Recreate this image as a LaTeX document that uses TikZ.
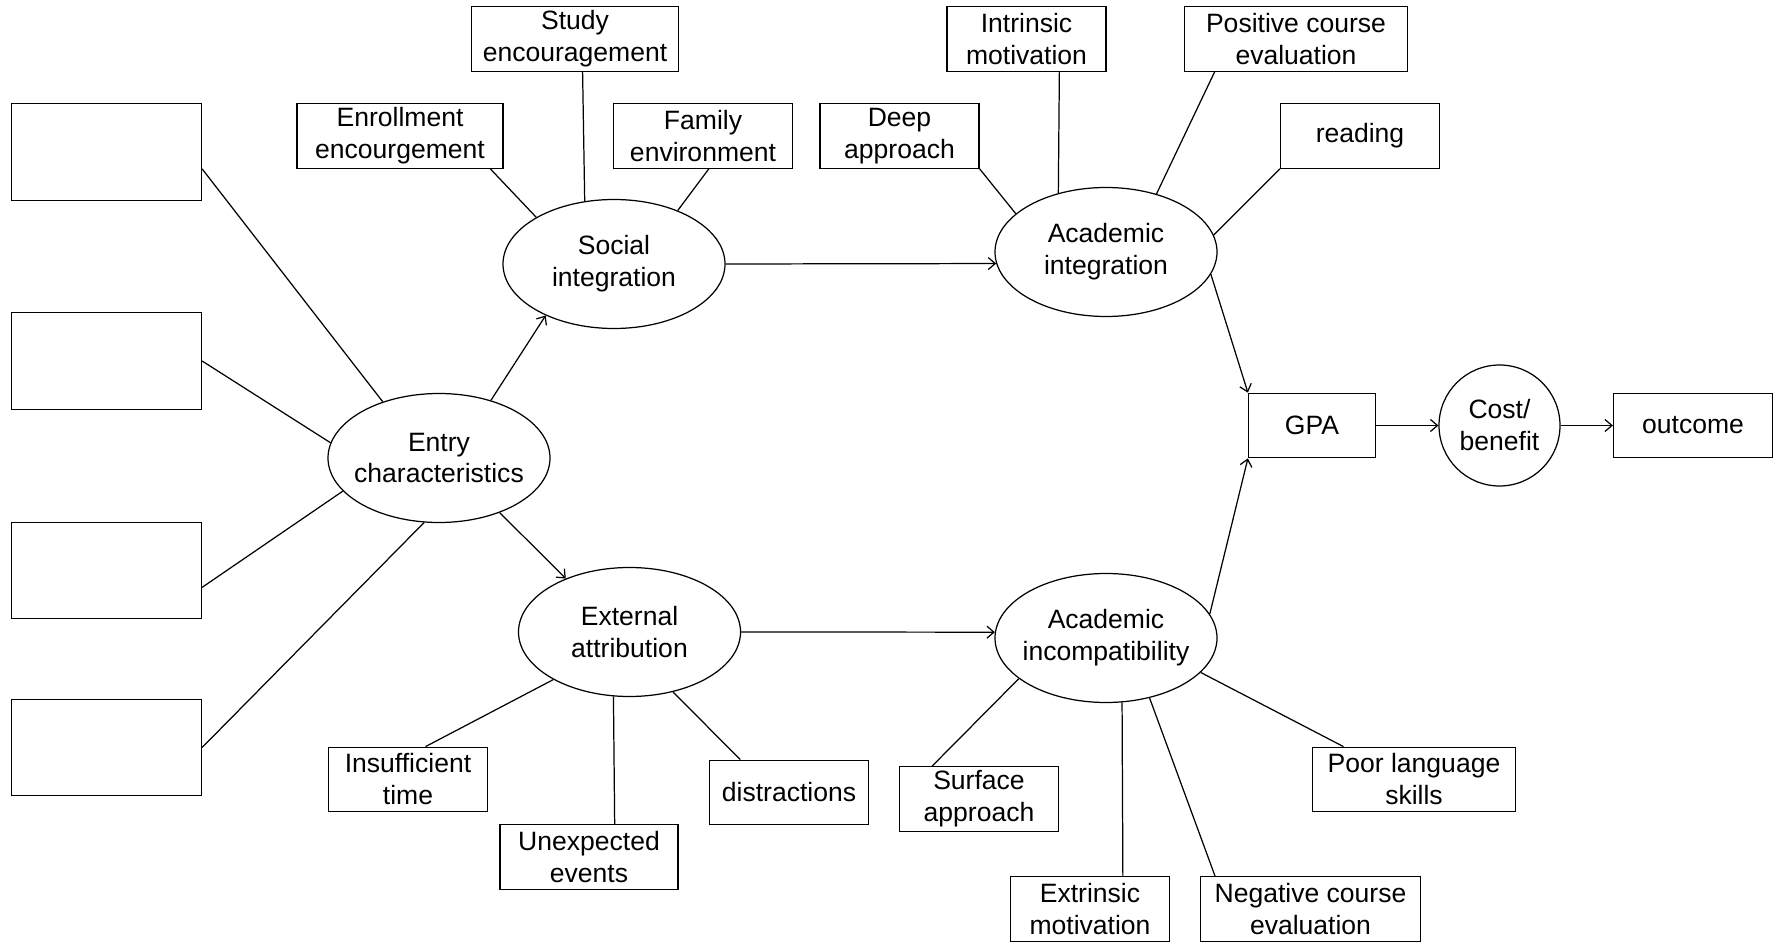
\documentclass[tikz,border=0pt]{standalone}
\usepackage{fontspec}
\setmainfont{Liberation Sans}
\usepackage{tikz}
\usetikzlibrary{shapes.geometric, arrows.meta, positioning}

\begin{document}
\begin{tikzpicture}[>={Straight Barb[length=1.4mm,width=2.4mm]}, on grid, line width=0.7pt,
    font=\fontsize{15.1}{18.2}\selectfont,
    construct/.style={draw, ellipse, minimum width=4.44cm, minimum height=2.58cm, inner xsep=-0.3cm, inner ysep=0pt, align=center},
    mediator/.style={draw, circle, minimum size=2.42cm, inner sep=0pt, align=center},
    indicator/.style={draw, rectangle, minimum width=3.18cm, minimum height=1.29cm, inner sep=0pt, align=center},
    blank/.style={draw, rectangle, minimum width=3.8cm, minimum height=1.93cm}]

\useasboundingbox (0,0) rectangle (35.56,-18.86);

\node[construct] (entry) at (8.78,-9.16) {Entry\\characteristics};
\node[construct, above right=3.88cm and 3.5cm of entry] (social) {Social\\integration};
\node[construct, below right=3.48cm and 3.81cm of entry] (external) {External\\attribution};
\node[construct, right=9.84cm of social, yshift=0.24cm] (acadint) {Academic\\integration};
\node[construct, right=9.53cm of external, yshift=-0.12cm] (acadinc) {Academic\\incompatibility};
\node[indicator, minimum width=2.54cm, below right=3.47cm and 4.12cm of acadint] (gpa) {GPA};
\node[mediator, right=3.75cm of gpa] (cost) {Cost/\\benefit};
\node[indicator, right=3.87cm of cost] (outcome) {outcome};

\node[blank, above left=6.12cm and 6.65cm of entry] (b1) {};
\node[blank, below=4.18cm of b1] (b2) {};
\node[blank, below=4.19cm of b2] (b3) {};
\node[blank, below=3.54cm of b3] (b4) {};

\node[indicator, minimum width=4.12cm, above left=2.56cm and 4.28cm of social] (enroll) {Enrollment\\encourgement};
\node[indicator, minimum width=4.13cm, above left=4.50cm and 0.78cm of social] (study) {Study\\encouragement};
\node[indicator, minimum width=3.57cm, above right=2.56cm and 1.78cm of social] (family) {Family\\environment};
\node[indicator, above left=2.32cm and 4.13cm of acadint] (deep) {Deep\\approach};
\node[indicator, above left=4.26cm and 1.59cm of acadint] (intrinsic) {Intrinsic\\motivation};
\node[indicator, minimum width=4.46cm, above right=4.26cm and 3.80cm of acadint] (positive) {Positive course\\evaluation};
\node[indicator, above right=2.32cm and 5.08cm of acadint] (reading) {reading};
\node[indicator, below left=2.95cm and 4.43cm of external] (insufficient) {Insufficient\\time};
\node[indicator, minimum width=3.56cm, below left=4.50cm and 0.81cm of external] (unexpected) {Unexpected\\events};
\node[indicator, below right=3.21cm and 3.19cm of external] (distractions) {distractions};
\node[indicator, below left=3.22cm and 2.54cm of acadinc] (surface) {Surface\\approach};
\node[indicator, below left=5.42cm and 0.32cm of acadinc] (extrinsic) {Extrinsic\\motivation};
\node[indicator, minimum width=4.39cm, below right=5.42cm and 4.09cm of acadinc] (negative) {Negative course\\evaluation};
\node[indicator, minimum width=4.06cm, below right=2.83cm and 6.16cm of acadinc] (poor) {Poor language\\skills};

\draw (b1.-10) -- (entry.135);
\draw (b2.east) -- (entry.172);
\draw (b3.-10) -- (entry.199);
\draw (b4.east) -- (entry.257);
\draw[->] (entry.48) -- (social.217);
\draw[->] (entry.-42) -- (external.140);

\draw (enroll.-20) -- (social.149);
\draw (study.-77) -- (social.115);
\draw (family.-80) -- (social.40);
\draw[->] (social.east) -- (acadint.186);

\draw (deep.south east) -- (acadint.157);
\draw (intrinsic.-45) -- (acadint.129);
\draw (positive.202) -- (acadint.49);
\draw (reading.south west) -- (acadint.9);
\draw[->] (acadint.-12) -- (gpa.north west);

\draw (insufficient.62) -- (external.212);
\draw (unexpected.52) -- (external.256);
\draw (distractions.146) -- (external.-54);
\draw[->] (external.east) -- (acadinc.177);

\draw (surface.145) -- (acadinc.205);
\draw (extrinsic.45) -- (acadinc.-76);
\draw (negative.161) -- (acadinc.-54);
\draw (poor.155) -- (acadinc.-20);
\draw[->] (acadinc.13) -- (gpa.south west);

\draw[->] (gpa) -- (cost);
\draw[->] (cost) -- (outcome);
\end{tikzpicture}
\end{document}
